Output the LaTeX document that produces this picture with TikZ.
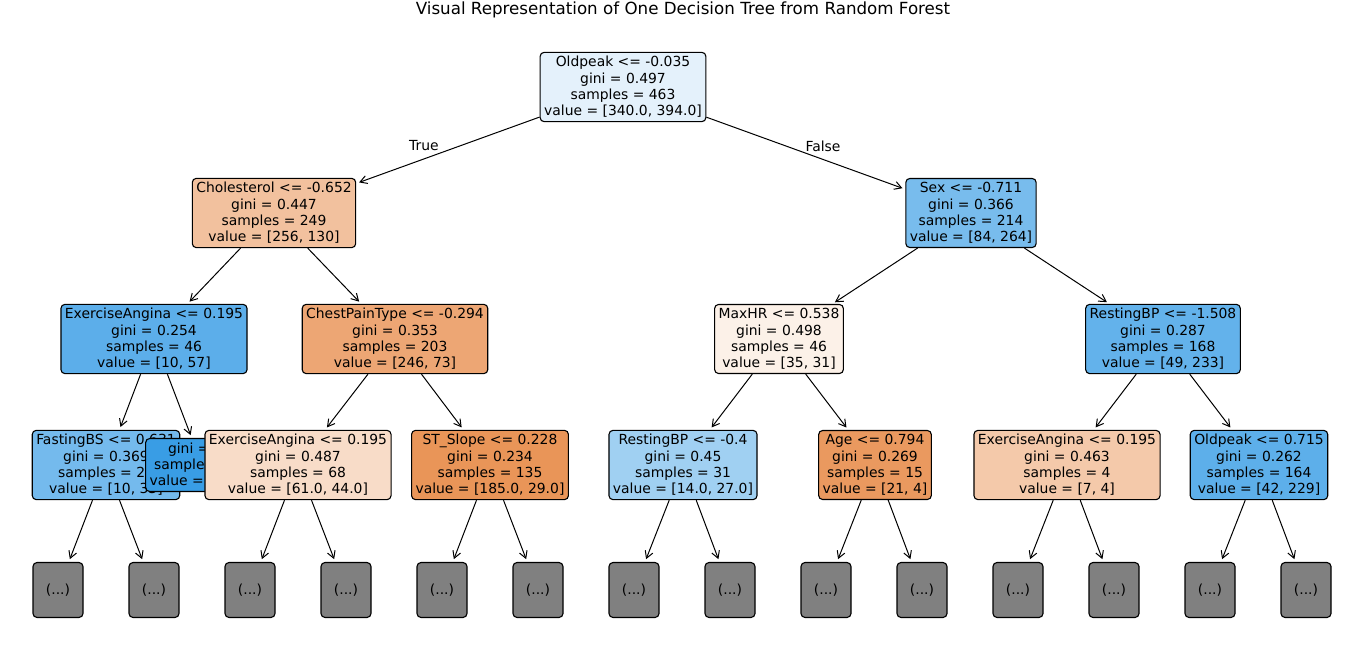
\documentclass[tikz,border=0pt]{standalone}
\usepackage{fontspec}
\setmainfont{DejaVu Sans}
\usetikzlibrary{arrows.meta,positioning}
\definecolor{c0}{RGB}{228,241,251}
\definecolor{c1}{RGB}{242,193,158}
\definecolor{c2}{RGB}{120,188,237}
\definecolor{c3}{RGB}{92,174,234}
\definecolor{c4}{RGB}{237,166,116}
\definecolor{c5}{RGB}{252,241,232}
\definecolor{c6}{RGB}{99,178,235}
\definecolor{c7}{RGB}{116,186,237}
\definecolor{c8}{RGB}{57,157,229}
\definecolor{c9}{RGB}{248,220,200}
\definecolor{c10}{RGB}{233,149,88}
\definecolor{c11}{RGB}{160,208,242}
\definecolor{c12}{RGB}{234,153,95}
\definecolor{c13}{RGB}{244,201,170}
\definecolor{c14}{RGB}{93,175,234}
\tikzset{
treebox/.style={
  draw,
  fill=#1,
  rounded corners=4pt,
  line width=1.1pt,
  align=center,
  inner xsep=4pt,
  inner ysep=4pt,
  font=\fontsize{13.9}{16.3}\selectfont
  },
dotbox/.style={
  treebox=gray!100,
  minimum width=50pt,
  minimum height=55pt
  },
edge/.style={
  ->,
  line width=1pt,
  shorten >=3pt
  }
}

\begin{document}
\begin{tikzpicture}[x=1pt,y=-1pt,>={Straight Barb[length=7pt,width=8pt]}]

\useasboundingbox (0,0) rectangle (1366,664);

\node (title) at (683,10) {\fontsize{16.7}{20}\selectfont Visual Representation of One Decision Tree from Random Forest};

% level 0
\node[treebox=c0] (n0) at (623,87) {Oldpeak <= -0.035\\gini = 0.497\\samples = 463\\value = [340.0, 394.0]};

% level 1
\node[treebox=c1] (n1) at (274,213) {Cholesterol <= -0.652\\gini = 0.447\\samples = 249\\value = [256, 130]};
\node[treebox=c2] (n2) at (971,213) {Sex <= -0.711\\gini = 0.366\\samples = 214\\value = [84, 264]};

% level 2
\node[treebox=c3] (n3) at (154,339) {ExerciseAngina <= 0.195\\gini = 0.254\\samples = 46\\value = [10, 57]};
\node[treebox=c4] (n4) at (395,339) {ChestPainType <= -0.294\\gini = 0.353\\samples = 203\\value = [246, 73]};
\node[treebox=c5] (n5) at (779,339) {MaxHR <= 0.538\\gini = 0.498\\samples = 46\\value = [35, 31]};
\node[treebox=c6] (n6) at (1163,339) {RestingBP <= -1.508\\gini = 0.287\\samples = 168\\value = [49, 233]};

% level 3
\node[treebox=c7] (n7) at (106,465) {FastingBS <= 0.631\\gini = 0.369\\samples = 23\\value = [10, 33]};
\node[dotbox] (d1) at (58,590) {(...)};
\node[dotbox] (d2) at (154,590) {(...)};
\node[treebox=c8] (n8) at (202,465) {gini = 0.0\\samples = 23\\value = [0, 24]};
\node[treebox=c9] (n9) at (298,465) {ExerciseAngina <= 0.195\\gini = 0.487\\samples = 68\\value = [61.0, 44.0]};
\node[treebox=c10] (n10) at (490,465) {ST\_Slope <= 0.228\\gini = 0.234\\samples = 135\\value = [185.0, 29.0]};
\node[treebox=c11] (n11) at (683,465) {RestingBP <= -0.4\\gini = 0.45\\samples = 31\\value = [14.0, 27.0]};
\node[treebox=c12] (n12) at (875,465) {Age <= 0.794\\gini = 0.269\\samples = 15\\value = [21, 4]};
\node[treebox=c13] (n13) at (1067,465) {ExerciseAngina <= 0.195\\gini = 0.463\\samples = 4\\value = [7, 4]};
\node[treebox=c14] (n14) at (1259,465) {Oldpeak <= 0.715\\gini = 0.262\\samples = 164\\value = [42, 229]};

% level 4
\node[dotbox] (d3) at (250,590) {(...)};
\node[dotbox] (d4) at (346,590) {(...)};
\node[dotbox] (d5) at (442,590) {(...)};
\node[dotbox] (d6) at (538,590) {(...)};
\node[dotbox] (d7) at (634,590) {(...)};
\node[dotbox] (d8) at (730,590) {(...)};
\node[dotbox] (d9) at (826,590) {(...)};
\node[dotbox] (d10) at (922,590) {(...)};
\node[dotbox] (d11) at (1018,590) {(...)};
\node[dotbox] (d12) at (1114,590) {(...)};
\node[dotbox] (d13) at (1210,590) {(...)};
\node[dotbox] (d14) at (1306,590) {(...)};

\node[font=\fontsize{13.9}{16.3}\selectfont] (ltrue) at (424,146) {True};
\node[font=\fontsize{13.9}{16.3}\selectfont] (lfalse) at (823,146) {False};

\draw[edge] (n0) -- (n1);
\draw[edge] (n0) -- (n2);

\draw[edge] (n1) -- (n3);
\draw[edge] (n1) -- (n4);
\draw[edge] (n2) -- (n5);
\draw[edge] (n2) -- (n6);

\draw[edge] (n3) -- (n7);
\draw[edge] (n3) -- (n8);
\draw[edge] (n4) -- (n9);
\draw[edge] (n4) -- (n10);
\draw[edge] (n5) -- (n11);
\draw[edge] (n5) -- (n12);
\draw[edge] (n6) -- (n13);
\draw[edge] (n6) -- (n14);

\draw[edge] (n7) -- (d1);
\draw[edge] (n7) -- (d2);
\draw[edge] (n9) -- (d3);
\draw[edge] (n9) -- (d4);
\draw[edge] (n10) -- (d5);
\draw[edge] (n10) -- (d6);
\draw[edge] (n11) -- (d7);
\draw[edge] (n11) -- (d8);
\draw[edge] (n12) -- (d9);
\draw[edge] (n12) -- (d10);
\draw[edge] (n13) -- (d11);
\draw[edge] (n13) -- (d12);
\draw[edge] (n14) -- (d13);
\draw[edge] (n14) -- (d14);

\end{tikzpicture}
\end{document}
